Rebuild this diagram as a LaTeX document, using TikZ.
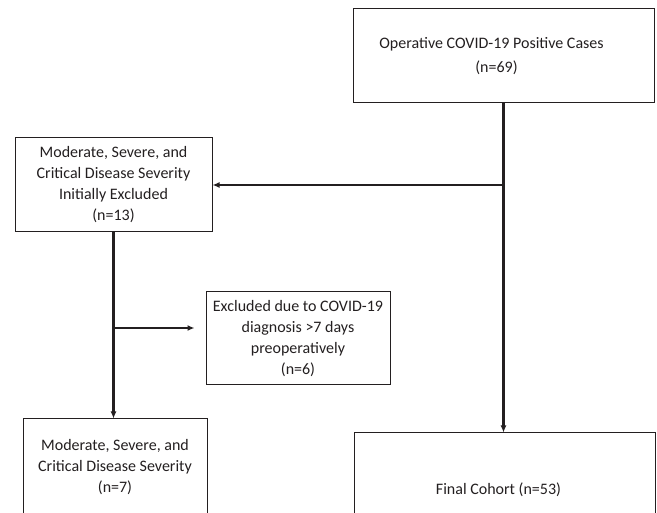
\documentclass[tikz,border=0pt]{standalone}
\usepackage{fontspec}
\setmainfont{Carlito}
\usetikzlibrary{arrows.meta}
\definecolor{ink}{RGB}{35,31,32}
\begin{document}
\begin{tikzpicture}[x=1pt, y=-1pt,
	flowbox/.style={draw=ink, line width=1pt, align=center, inner sep=0pt,
		font=\fontsize{16}{21}\selectfont, text=ink},
	flowline/.style={draw=ink, line width=2.2pt, -{Latex[length=7pt,width=6pt]}}]
	\clip (0,0) rectangle (657,513);
	\node[flowbox, minimum width=301pt, minimum height=94pt] (cases) at (503.5,56)
		{\hspace*{-24pt}Operative COVID-19 Positive Cases\\[3pt]\hspace*{-14pt}(n=69)};
	\node[flowbox, minimum width=197pt, minimum height=94pt] (init) at (113.5,185)
		{Moderate, Severe, and\\Critical Disease Severity\\Initially Excluded\\(n=13)};
	\node[flowbox, minimum width=184pt, minimum height=93pt] (late) at (298,338.5)
		{Excluded due to COVID-19\\diagnosis >7 days\\preoperatively\\(n=6)};
	\node[flowbox, minimum width=184pt, minimum height=96pt] (sev) at (115,467)
		{Moderate, Severe, and\\Critical Disease Severity\\(n=7)};
	\node[flowbox, minimum width=301pt, minimum height=114pt] (final) at (504.5,490)
		{\hspace*{-12pt}Final Cohort (n=53)};
	\coordinate (split) at (init.south |- 0,328);
	\draw[flowline] (cases.south) -- (cases.south |- final.north);
	\draw[flowline] (cases.south |- init.east) -- (init.east);
	\draw[flowline] (init.south) -- (init.south |- sev.north);
	\draw[flowline, shorten >=11pt] (split) -- (split -| late.west);
\end{tikzpicture}
\end{document}
